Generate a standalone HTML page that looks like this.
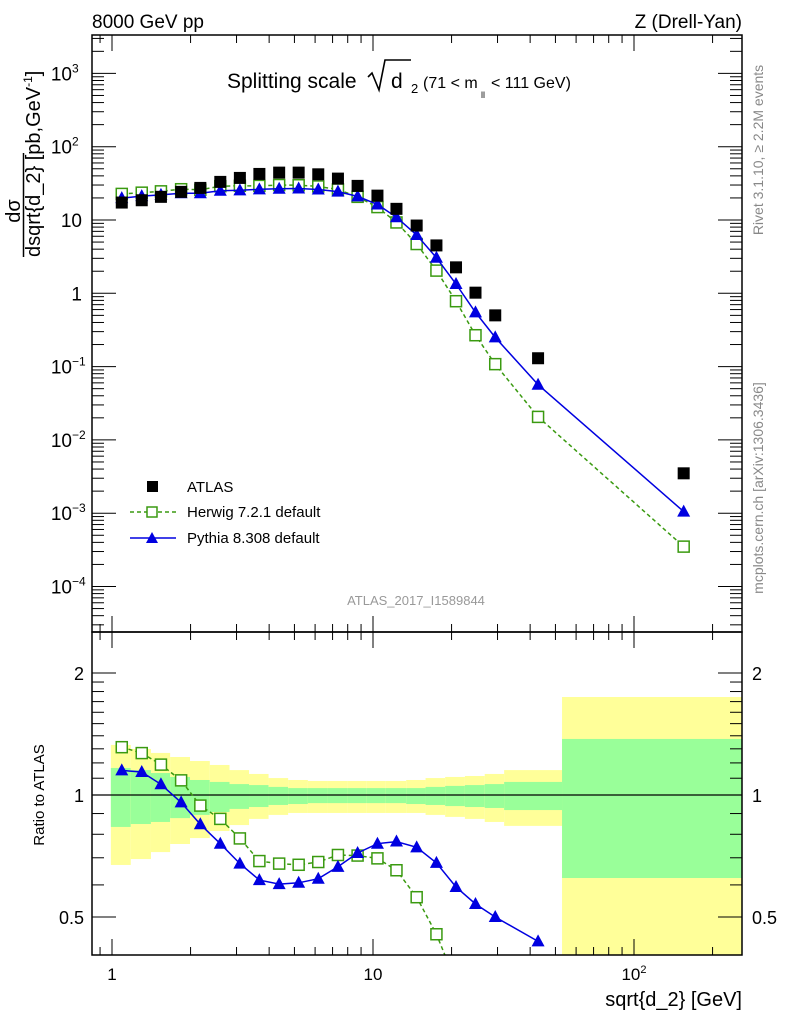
<!DOCTYPE html>
<html><head><meta charset="utf-8"><style>
html,body{margin:0;padding:0;background:#fff;overflow:hidden;width:786px;height:1024px;}
svg{display:block;font-family:"Liberation Sans",sans-serif;}
</style></head><body>
<svg id="chart" width="786" height="1024" viewBox="0 0 786 1024" xmlns="http://www.w3.org/2000/svg">
<text x="92" y="28" font-size="19">8000 GeV pp</text>
<text x="742" y="28" font-size="19" text-anchor="end">Z (Drell-Yan)</text>
<g>
<text x="227" y="88" font-size="21">Splitting scale</text>
<path d="M368,77 L372,73 L379,90 L385,60 L411,60" fill="none" stroke="#000" stroke-width="1.6"/>
<text x="391" y="88" font-size="21">d</text><text x="411" y="93" font-size="13">2</text>
<text x="423" y="88" font-size="16">(71 &lt; m</text><text x="481" y="98" font-size="9">ll</text><text x="491" y="88" font-size="16">&lt; 111 GeV)</text>
</g>
<text x="763" y="150" font-size="14" fill="#888" text-anchor="middle" transform="rotate(-90 763 150)">Rivet 3.1.10, ≥ 2.2M events</text>
<text x="763" y="488" font-size="14" fill="#888" text-anchor="middle" transform="rotate(-90 763 488)">mcplots.cern.ch [arXiv:1306.3436]</text>
<text x="416" y="605" font-size="13" fill="#999" text-anchor="middle">ATLAS_2017_I1589844</text>
<g>
<text x="0" y="0" font-size="20" text-anchor="middle" transform="translate(20,211) rotate(-90)">dσ</text>
<line x1="23.5" y1="257" x2="23.5" y2="153" stroke="#000" stroke-width="1.5"/>
<text x="0" y="0" font-size="20" text-anchor="start" transform="translate(40,257) rotate(-90)">dsqrt{d_2} [pb,GeV<tspan font-size="12" dy="-8">-1</tspan><tspan dy="8">]</tspan></text>
</g>
<text x="0" y="0" font-size="15" text-anchor="middle" transform="translate(44,795) rotate(-90)">Ratio to ATLAS</text>
<text x="742" y="1006" font-size="20" text-anchor="end">sqrt{d_2} [GeV]</text>
<g id="bands"></g><g id="marks"></g><g id="axes"></g>
<g>
<g><rect x="147" y="481" width="11" height="11" fill="#000"/><text x="187" y="492" font-size="15">ATLAS</text></g>
<g><line x1="130" y1="512" x2="176" y2="512" stroke="#3a9a10" stroke-width="1.5" stroke-dasharray="4,3"/><rect x="147" y="507" width="10" height="10" fill="#fff" stroke="#3a9a10" stroke-width="1.5"/><text x="187" y="517" font-size="15">Herwig 7.2.1 default</text></g>
<g><line x1="130" y1="538" x2="176" y2="538" stroke="#0000e0" stroke-width="1.5"/><polygon points="152,532 158,543 146,543" fill="#0000e0"/><text x="187" y="543" font-size="15">Pythia 8.308 default</text></g>
</g>
</svg>
<script>
const xs=[1.09,1.30,1.54,1.84,2.18,2.60,3.09,3.67,4.37,5.19,6.17,7.34,8.73,10.4,12.3,14.7,17.5,20.8,24.7,29.4,42.9,155];
const binEdges=[0.99,1.18,1.41,1.67,1.99,2.37,2.82,3.35,3.98,4.73,5.63,6.69,7.96,9.46,11.2,13.4,15.9,18.9,22.5,26.8,31.8,53.0,300];
const atlas=[17.3,18.6,20.7,24.2,27.4,33.1,37.5,42.5,44.3,44.3,42.0,36.7,29.2,21.5,14.2,8.4,4.5,2.26,1.02,0.50,0.13,0.0035];
const herwig=[22.7,23.6,24.6,26.3,25.8,28.9,29.3,29.2,30.0,29.8,28.7,26.1,20.7,15.0,9.26,4.70,2.04,0.78,0.268,0.108,0.0206,0.00035];
const pythia=[19.9,21.2,22.0,23.2,23.2,25.1,25.4,26.2,26.7,26.9,26.1,24.4,21.0,16.3,10.9,6.24,3.06,1.34,0.549,0.250,0.0566,0.00105];
const yellowHi=[1.329,1.299,1.27,1.241,1.213,1.186,1.152,1.127,1.101,1.089,1.083,1.083,1.083,1.083,1.083,1.089,1.101,1.108,1.114,1.127,1.152,1.745];
const greenHi=[1.166,1.152,1.133,1.108,1.089,1.077,1.064,1.058,1.047,1.040,1.040,1.040,1.040,1.040,1.040,1.040,1.047,1.053,1.058,1.064,1.077,1.375];
const greenLo=[0.834,0.848,0.858,0.877,0.893,0.908,0.924,0.934,0.945,0.950,0.955,0.955,0.955,0.955,0.955,0.950,0.945,0.939,0.934,0.929,0.918,0.624];
const yellowLo=[0.672,0.695,0.723,0.757,0.783,0.815,0.843,0.873,0.893,0.903,0.903,0.903,0.903,0.903,0.903,0.903,0.893,0.883,0.873,0.858,0.839,0.3];
const yTickExps=["-4","-3","-2","-1","","","2","3"];
const rTickVals=[0.5,1,2];
const NS="http://www.w3.org/2000/svg";
const L=92,R=742,T=35,M=632,B=955;
const RMIN=0.403;
const X=v=>112+261*Math.log10(v);
const Y=v=>293.3-73.3*Math.log10(v);
const RY=v=>795-122*Math.log2(v);
function mk(tag,at,parent){const e=document.createElementNS(NS,tag);for(const k in at)e.setAttribute(k,at[k]);parent.appendChild(e);return e;}
const bands=document.getElementById('bands'),marks=document.getElementById('marks'),axes=document.getElementById('axes');
const clipR=mk('clipPath',{id:'cr'},bands);mk('rect',{x:L,y:M,width:R-L,height:B-M},clipR);
const clipM=mk('clipPath',{id:'cm'},bands);mk('rect',{x:L,y:T,width:R-L,height:M-T},clipM);
const bg=mk('g',{'clip-path':'url(#cr)'},bands);
for(let i=0;i<xs.length;i++){
  const x1=Math.max(X(binEdges[i]),L),x2=Math.min(X(binEdges[i+1]),R);
  let r=mk('rect',{x:x1,y:RY(yellowHi[i]),width:x2-x1,height:RY(yellowLo[i])-RY(yellowHi[i]),fill:'#ffff99'},bg);
  
  
  r=mk('rect',{x:x1,y:RY(greenHi[i]),width:x2-x1,height:RY(greenLo[i])-RY(greenHi[i]),fill:'#99ff99'},bg);
  
  
}
mk('line',{x1:L,y1:RY(1),x2:R,y2:RY(1),stroke:'#000','stroke-width':1.2},bands);
const mg=mk('g',{'clip-path':'url(#cm)'},marks), rg=mk('g',{'clip-path':'url(#cr)'},marks);
function series(vals,color,dash,shape,g,yf,name,mode){
  let pts=[];
  for(let i=0;i<vals.length;i++){
    const out=vals[i]<RMIN;
    if(mode==='inOnly'&&out)break;
    pts.push(X(xs[i]).toFixed(1)+','+yf(vals[i]).toFixed(1));
    if(mode==='toFirstOut'&&out)break;
  }
  const pl=mk('polyline',{points:pts.join(' '),fill:'none',stroke:color,'stroke-width':1.5},g);
  if(dash)pl.setAttribute('stroke-dasharray',dash);
  
  
  xs.forEach((x,i)=>{const cx=X(x),cy=yf(vals[i]);let e;
    if(shape==='sq')e=mk('rect',{x:cx-5.5,y:cy-5.5,width:11,height:11,fill:'#fff',stroke:color,'stroke-width':1.5},g);
    else e=mk('polygon',{points:`${cx},${cy-7} ${cx+6.5},${cy+5} ${cx-6.5},${cy+5}`,fill:color},g);
    
    
  });
}
series(herwig,'#3a9a10','4,3','sq',mg,Y,'herwig','all');
series(pythia,'#0000e0',null,'tri',mg,Y,'pythia','all');
xs.forEach((x,i)=>{const e=mk('rect',{x:X(x)-6,y:Y(atlas[i])-6,width:12,height:12,fill:'#000'},mg);
  
  });
series(herwig.map((v,i)=>v/atlas[i]),'#3a9a10','4,3','sq',rg,RY,'herwig-ratio','toFirstOut');
series(pythia.map((v,i)=>v/atlas[i]),'#0000e0',null,'tri',rg,RY,'pythia-ratio','inOnly');
mk('rect',{x:L,y:T,width:R-L,height:M-T,fill:'none',stroke:'#000','stroke-width':1.5},axes);
mk('rect',{x:L,y:M,width:R-L,height:B-M,fill:'none',stroke:'#000','stroke-width':1.5},axes);
const tk=(x1,y1,x2,y2)=>mk('line',{x1,y1,x2,y2,stroke:'#000','stroke-width':1},axes);
for(let d=-1;d<=2;d++)for(let m=1;m<10;m++){const v=m*Math.pow(10,d),x=X(v);if(x<L||x>R)continue;
  const len=m===1?16:8;tk(x,B,x,B-len);tk(x,M,x,M+len);tk(x,M,x,M-len);tk(x,T,x,T+len);}
[[1,'1',''],[10,'10',''],[100,'10','2']].forEach(([v,s,e])=>{const t=mk('text',{x:X(v),y:980,'font-size':17,'text-anchor':'middle'},axes);
  t.textContent=s;if(e){const ts=mk('tspan',{'font-size':11,dy:-7},t);ts.textContent=e;}
  
  });
for(let d=-5;d<=3;d++)for(let m=1;m<10;m++){const y=Y(m*Math.pow(10,d));if(y<T||y>M)continue;
  const len=m===1?24:12;tk(L,y,L+len,y);tk(R,y,R-len,y);}
yTickExps.forEach((e,i)=>{const d=i-4;const y=Y(Math.pow(10,d))+7;
  const base=d===0?'1':'10';
  const t=mk('text',{x:e?72:82,y:y,'font-size':19,'text-anchor':'end'},axes);t.textContent=base;
  
  
  if(e){const s=mk('text',{x:72,y:y-8,'font-size':12},axes);s.textContent=e.replace('-','−');
    
    }
});
[0.5,0.6,0.7,0.8,0.9,1,1.1,1.2,1.3,1.4,1.5,1.6,1.7,1.8,1.9,2].forEach(v=>{const y=RY(v);const len=rTickVals.includes(v)?24:12;tk(L,y,L+len,y);tk(R,y,R-len,y);});
rTickVals.forEach(v=>{const s=String(v);
  let t=mk('text',{x:84,y:RY(v)+7,'font-size':18,'text-anchor':'end'},axes);t.textContent=s;
  
  
  t=mk('text',{x:752,y:RY(v)+7,'font-size':18},axes);t.textContent=s;
  
  });
</script>
</body></html>
